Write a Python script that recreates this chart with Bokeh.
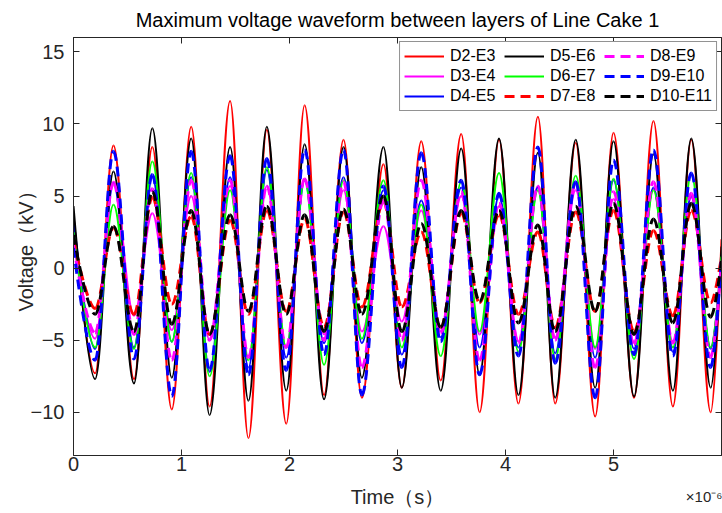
import numpy as np
from bokeh.plotting import figure
from bokeh.models import (ColumnDataSource, Range1d, LinearAxis, FixedTicker,
                          Legend, LegendItem, CustomJSTickFormatter)
from bokeh.embed import file_html
from bokeh.resources import INLINE

# ---- data (times in microseconds, voltage in kV) ----
# times of the start, of each successive trough/peak, and of the right edge
time_us = [0.00, 0.20, 0.37, 0.56, 0.73, 0.91, 1.09, 1.26, 1.45, 1.62, 1.79, 1.97,
           2.14, 2.32, 2.50, 2.67, 2.87, 3.04, 3.22, 3.40, 3.59, 3.76, 3.94, 4.12,
           4.30, 4.46, 4.65, 4.83, 5.00, 5.19, 5.37, 5.55, 5.72, 5.90, 6.00]

d2_e3 = [3.7, -7.3, 8.5, -7.7, 8.4, -9.8, 9.8, -9.6, 11.6, -11.8, 9.6, -10.8,
         11.3, -8.8, 8.9, -9.0, 7.2, -8.3, 8.8, -7.8, 9.3, -10.0, 8.9, -9.4,
         10.5, -9.4, 8.7, -10.3, 9.4, -9.0, 10.2, -9.6, 8.9, -10.0, 2.0]
d3_e4 = [1.9, -4.9, 6.0, -3.3, 3.8, -4.3, 5.0, -5.0, 5.7, -6.2, 5.7, -5.5,
         6.2, -4.6, 5.4, -4.4, 2.9, -3.7, 4.0, -4.4, 5.0, -4.6, 4.3, -5.1,
         5.7, -4.8, 5.4, -5.6, 4.8, -5.1, 5.5, -5.1, 4.9, -5.5, 0.3]
d4_e5 = [3.5, -5.6, 5.9, -5.5, 6.3, -5.1, 6.3, -7.2, 6.3, -6.9, 6.8, -6.2,
         6.1, -5.2, 6.3, -5.2, 5.4, -6.0, 4.7, -4.8, 5.6, -5.5, 5.0, -5.5,
         5.6, -5.9, 5.9, -6.2, 6.1, -5.6, 5.6, -5.8, 5.0, -5.6, 0.5]
d5_e6 = [4.3, -7.7, 6.7, -8.0, 9.7, -7.6, 9.0, -10.2, 8.4, -9.2, 9.8, -8.5,
         8.6, -9.1, 8.4, -7.6, 8.4, -8.3, 7.0, -8.5, 8.3, -7.4, 9.0, -8.8,
         8.0, -9.0, 8.9, -8.3, 8.8, -8.9, 7.9, -8.5, 9.0, -8.3, 1.5]
d6_e7 = [2.5, -5.5, 4.4, -5.6, 7.4, -5.1, 6.6, -7.5, 5.4, -6.4, 7.0, -5.5,
         6.1, -6.7, 6.1, -4.9, 6.1, -5.5, 4.4, -6.1, 6.0, -4.4, 6.6, -5.8,
         5.4, -6.3, 6.4, -5.5, 6.2, -6.3, 5.4, -5.5, 6.5, -5.5, 0.8]
d7_e8 = [2.0, -2.8, 2.8, -3.2, 4.9, -2.5, 3.6, -4.6, 3.3, -3.2, 4.0, -3.0,
         3.4, -4.1, 3.9, -2.7, 4.6, -2.7, 2.5, -4.1, 3.8, -2.4, 3.7, -3.2,
         2.5, -4.1, 3.9, -3.0, 4.0, -4.4, 2.6, -3.3, 4.0, -2.4, 0.8]
d8_e9 = [1.6, -4.5, 5.9, -4.6, 5.5, -6.4, 6.1, -5.0, 6.1, -6.2, 5.7, -5.5,
         6.2, -5.0, 6.0, -6.9, 4.7, -5.0, 6.1, -4.5, 5.3, -6.4, 4.5, -5.2,
         5.7, -5.0, 5.9, -6.9, 5.3, -5.3, 6.0, -5.2, 5.2, -6.2, 0.5]
d9_e10 = [1.4, -6.4, 8.1, -6.3, 6.5, -8.9, 8.1, -7.1, 7.8, -7.4, 7.6, -7.1,
          8.2, -6.0, 8.2, -8.8, 5.7, -6.9, 8.0, -5.1, 6.1, -7.4, 5.2, -6.1,
          8.4, -6.6, 6.0, -9.0, 7.5, -6.0, 8.2, -6.1, 6.6, -6.9, 0.8]
d10_e11 = [2.3, -3.2, 2.9, -4.4, 5.3, -3.9, 4.0, -4.6, 3.7, -3.0, 4.3, -3.2,
           3.7, -4.4, 4.1, -3.2, 5.0, -4.4, 3.1, -4.1, 4.0, -2.3, 4.0, -3.8,
           3.0, -4.4, 4.3, -3.0, 4.5, -4.6, 3.4, -3.8, 4.5, -3.4, 0.5]

labels = ["D2-E3", "D3-E4", "D4-E5", "D5-E6", "D6-E7", "D7-E8", "D8-E9", "D9-E10", "D10-E11"]
series = [d2_e3, d3_e4, d4_e5, d5_e6, d6_e7, d7_e8, d8_e9, d9_e10, d10_e11]

x_ticks = [0, 1, 2, 3, 4, 5]
y_ticks = [-10, -5, 0, 5, 10, 15]
exponent_text = "×10⁻⁶"
exponent_at = 5.84

# ---- style ----
colors = ["#FF0000", "#FF00FF", "#0000FF", "#000000", "#00FF00",
          "#FF0000", "#FF00FF", "#0000FF", "#000000"]
dashes = ["solid"] * 5 + ["10 6"] * 4
widths = [2, 2, 2, 2, 2, 3, 3, 3, 3]
AX = "#262626"
FONT = "Liberation Sans"
K = 0.3642  # cubic-bezier handle fraction for a half-cosine swing between extrema


def segments(t, v):
    t = np.asarray(t, float)
    v = np.asarray(v, float)
    x0, x1, y0, y1 = t[:-1], t[1:], v[:-1], v[1:]
    dt = x1 - x0
    cx0 = x0 + K * dt
    cx1 = x1 - K * dt
    cy0 = y0.copy()
    cy1 = y1.copy()
    # first point is the left edge, last point the right edge (not extrema)
    cx0[0], cy0[0] = x0[0], y0[0]
    cx1[-1], cy1[-1] = x1[-1], y1[-1]
    return ColumnDataSource(dict(x0=x0, y0=y0, x1=x1, y1=y1,
                                 cx0=cx0, cy0=cy0, cx1=cx1, cy1=cy1))


p = figure(width=722, height=513, x_range=Range1d(0, 6), y_range=Range1d(-13, 16),
           output_backend="svg", toolbar_location=None,
           min_border_left=73, min_border_right=1, min_border_top=37, min_border_bottom=58)
p.xgrid.visible = False
p.ygrid.visible = False
p.outline_line_color = AX
p.outline_line_width = 1
p.background_fill_color = "white"
p.border_fill_color = "white"

p.title.text = "Maximum voltage waveform between layers of Line Cake 1"
p.title.align = "center"
p.title.text_font = FONT
p.title.text_font_size = "20px"
p.title.text_font_style = "normal"
p.title.text_color = "#000000"
p.title.standoff = 13

items = []
for lab, vals, c, d, w in zip(labels, series, colors, dashes, widths):
    src = segments(time_us, vals)
    p.bezier(x0="x0", y0="y0", x1="x1", y1="y1", cx0="cx0", cy0="cy0",
             cx1="cx1", cy1="cy1", source=src, line_color=c, line_width=w,
             line_dash=d)
    leg = p.line(x=[np.nan], y=[np.nan], line_color=c, line_width=w, line_dash=d)
    items.append(LegendItem(label=lab, renderers=[leg]))

xa = p.below[0]
ya = p.left[0]
xa.ticker = FixedTicker(ticks=x_ticks)
ya.ticker = FixedTicker(ticks=y_ticks)
ya.axis_label = "Voltage（kV）"

top = LinearAxis(ticker=FixedTicker(ticks=x_ticks),
                 formatter=CustomJSTickFormatter(code="return ''"))
right = LinearAxis(ticker=FixedTicker(ticks=y_ticks),
                   formatter=CustomJSTickFormatter(code="return ''"))
# second row under the x tick labels: x-axis title and the exponent
xa2 = LinearAxis(ticker=FixedTicker(ticks=[exponent_at]),
                 major_label_overrides={exponent_at: exponent_text})
xa2.axis_label = "Time（s）"
p.add_layout(top, "above")
p.add_layout(right, "right")
p.add_layout(xa2, "below")

for ax in [xa, ya, top, right, xa2]:
    ax.axis_line_color = AX
    ax.major_tick_line_color = AX
    ax.major_tick_in = 6
    ax.major_tick_out = 0
    ax.minor_tick_line_color = None
    ax.major_label_text_color = AX
    ax.major_label_text_font = FONT
    ax.major_label_text_font_size = "20px"
    ax.axis_label_text_font = FONT
    ax.axis_label_text_font_size = "20px"
    ax.axis_label_text_font_style = "normal"
    ax.axis_label_text_color = AX

for ax in [top, right]:
    ax.major_label_standoff = 0
    ax.major_label_text_font_size = "1px"

xa2.axis_line_color = None
xa2.major_tick_line_color = None
xa2.major_label_text_font_size = "15px"
xa2.major_label_standoff = 14
xa2.axis_label_standoff = -22

xa.major_label_standoff = 1
ya.major_label_standoff = 9
ya.axis_label_standoff = -9

legend = Legend(items=items, location="top_right", orientation="vertical", nrows=3,
                glyph_width=40, glyph_height=20, label_standoff=6, spacing=0,
                padding=4, margin=4, label_height=20, label_width=54,
                label_text_font=FONT, label_text_font_size="16px",
                label_text_color="#000000",
                border_line_color=AX, border_line_width=1,
                background_fill_color="white", background_fill_alpha=1)
p.add_layout(legend)

open("out.html", "w").write(file_html(p, INLINE))
